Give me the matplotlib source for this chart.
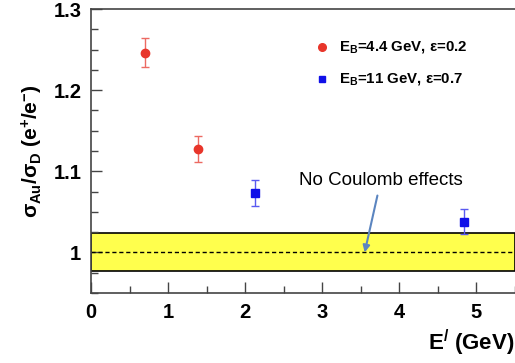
import matplotlib
matplotlib.use('Agg')
import matplotlib.pyplot as plt
from matplotlib.ticker import MultipleLocator

plt.rcParams['font.family'] = ['Liberation Sans', 'DejaVu Sans']
plt.rcParams['mathtext.fontset'] = 'custom'
plt.rcParams['mathtext.rm'] = 'Liberation Sans:bold'
plt.rcParams['mathtext.it'] = 'Liberation Sans:bold'
plt.rcParams['mathtext.bf'] = 'Liberation Sans:bold'

# donnees
x_44 = [0.70, 1.39]
y_44 = [1.246, 1.128]
err_44 = [0.018, 0.016]
x_11 = [2.13, 4.84]
y_11 = [1.073, 1.038]
err_11 = [0.016, 0.015]
band_lo, band_hi = 0.9765, 1.0235

fig = plt.figure(figsize=(5.15, 3.63), dpi=100)
ax = fig.add_axes([0.1767, 0.193, 0.8233, 0.782])

ax.axhspan(band_lo, band_hi, facecolor='#ffff4d', edgecolor='black', lw=1.2, zorder=1)
ax.axhline(1.0, color='black', ls=(0, (3, 2)), lw=1.0, zorder=2)

ax.errorbar(x_44, y_44, yerr=err_44, fmt='o', color='#e8352a', ecolor='#ec6a62',
            ms=6, capsize=3, elinewidth=1, capthick=1, zorder=3)
ax.errorbar(x_11, y_11, yerr=err_11, fmt='s', color='#1010e8', ecolor='#5a5af0',
            ms=6, capsize=3, elinewidth=1, capthick=1, zorder=3)

# legende "a la main" comme sur l'original
ax.plot([2.99], [1.2535], 'o', color='#e8352a', ms=5.5, clip_on=False)
ax.plot([2.99], [1.214], 's', color='#1010e8', ms=5, clip_on=False)
ax.text(3.22, 1.2535, r'E$_\mathrm{B}$=4.4 GeV, $\varepsilon$=0.2', fontsize=10.8,
        fontweight='bold', va='center')
ax.text(3.22, 1.214, r'E$_\mathrm{B}$=11 GeV, $\varepsilon$=0.7', fontsize=10.8,
        fontweight='bold', va='center')

ax.annotate('No Coulomb effects', xy=(3.55, 1.0), xytext=(3.76, 1.089),
            fontsize=13.5, ha='center', va='center',
            arrowprops=dict(arrowstyle='-|>', color='#5b85c0', lw=1.5,
                            shrinkA=3, shrinkB=0, mutation_scale=10))

ax.set_xlim(0, 5.5)
ax.set_ylim(0.95, 1.3)
ax.xaxis.set_major_locator(MultipleLocator(1))
ax.xaxis.set_minor_locator(MultipleLocator(0.5))
ax.yaxis.set_minor_locator(MultipleLocator(0.025))
ax.set_yticks([1.0, 1.1, 1.2, 1.3])
ax.set_yticklabels(['1', '1.1', '1.2', '1.3'])
ax.tick_params(which='both', direction='in', top=False, right=False, width=1, color='#444444')
ax.tick_params(which='major', length=8, labelsize=14.5, pad=7)
ax.tick_params(which='minor', length=5)
for lab in ax.get_xticklabels() + ax.get_yticklabels():
    lab.set_fontweight('bold')
ax.spines['right'].set_visible(False)
for s in ['left', 'top', 'bottom']:
    ax.spines[s].set_color('#444444')
    ax.spines[s].set_linewidth(1.2)

ax.set_ylabel(r'$\sigma_{Au}/\sigma_{D}$ (e$^{+}$/e$^{-}$)', fontsize=15, fontweight='bold', labelpad=6)
fig.text(0.998, 0.015, r"E$^{/}$ (GeV)", fontsize=16, fontweight='bold', ha='right', va='bottom')

fig.savefig('out.png', dpi=100)
